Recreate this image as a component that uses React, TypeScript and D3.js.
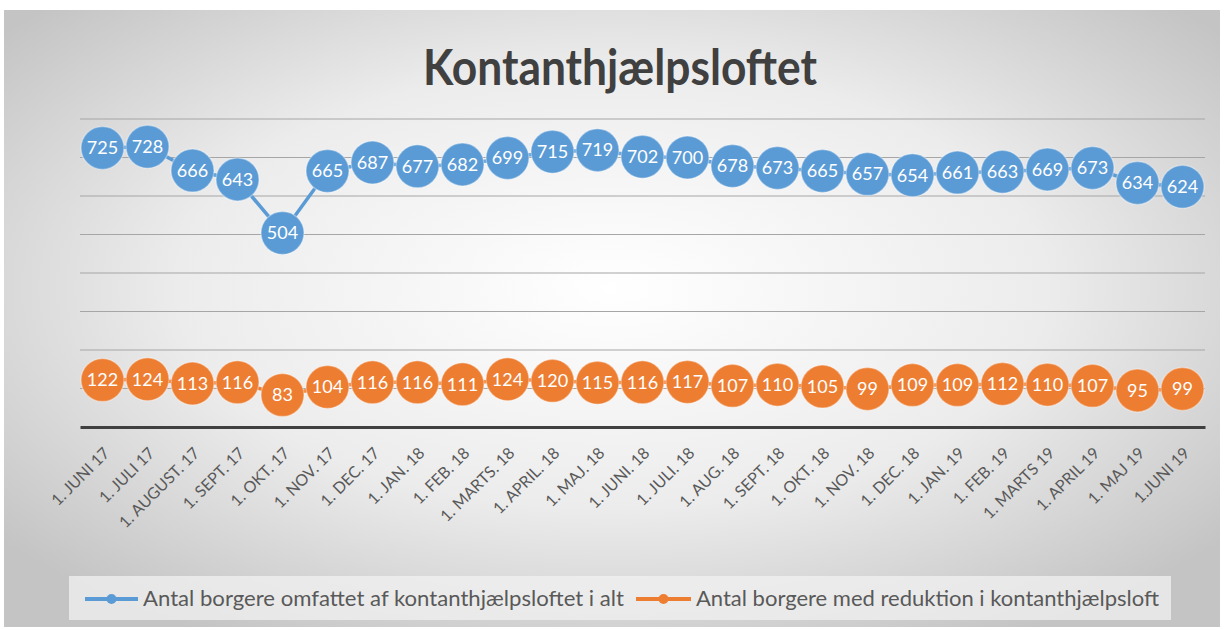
import React, { useEffect, useRef } from "react";
import * as d3 from "d3";

const months = [
  "1. JUNI 17", "1. JULI 17", "1. AUGUST. 17", "1. SEPT. 17", "1. OKT. 17",
  "1. NOV. 17", "1. DEC. 17", "1. JAN. 18", "1. FEB. 18", "1. MARTS. 18",
  "1. APRIL. 18", "1. MAJ. 18", "1. JUNI. 18", "1. JULI. 18", "1. AUG. 18",
  "1. SEPT. 18", "1. OKT. 18", "1. NOV. 18", "1. DEC. 18", "1. JAN. 19",
  "1. FEB. 19", "1. MARTS 19", "1. APRIL 19", "1. MAJ 19", "1.JUNI 19",
];

const totalCitizens = [
  725, 728, 666, 643, 504, 665, 687, 677, 682, 699, 715, 719, 702, 700, 678,
  673, 665, 657, 654, 661, 663, 669, 673, 634, 624,
];

const reducedCitizens = [
  122, 124, 113, 116, 83, 104, 116, 116, 111, 124, 120, 115, 116, 117, 107,
  110, 105, 99, 109, 109, 112, 110, 107, 95, 99,
];

const seriesNames = [
  "Antal borgere omfattet af kontanthjælpsloftet i alt",
  "Antal borgere med reduktion i kontanthjælpsloft",
];

const yTicks = [0, 100, 200, 300, 400, 500, 600, 700, 800];

const BLUE = "#5b9bd5";
const ORANGE = "#ed7d31";
const FONT = "Lato, 'Open Sans', sans-serif";

export default function App() {
  const ref = useRef<SVGSVGElement>(null);

  useEffect(() => {
    const width = 1224;
    const height = 630;
    const margin = { top: 119, right: 19, bottom: 203, left: 80 };
    const innerWidth = width - margin.left - margin.right;
    const innerHeight = height - margin.top - margin.bottom;

    const svg = d3.select(ref.current);
    svg.selectAll("*").remove();

    // background gradient
    const defs = svg.append("defs");
    const grad = defs.append("radialGradient")
      .attr("id", "bg")
      .attr("cx", "50%").attr("cy", "45%").attr("r", "65%");
    grad.append("stop").attr("offset", "0%").attr("stop-color", "#ffffff");
    grad.append("stop").attr("offset", "55%").attr("stop-color", "#ececec");
    grad.append("stop").attr("offset", "100%").attr("stop-color", "#c4c4c4");

    svg.append("rect").attr("width", width).attr("height", height).attr("fill", "#ffffff");
    svg.append("rect")
      .attr("x", 4).attr("y", 10)
      .attr("width", width - 8).attr("height", height - 13)
      .attr("fill", "url(#bg)");

    // title
    svg.append("text")
      .attr("x", 620)
      .attr("y", 85)
      .attr("text-anchor", "middle")
      .attr("font-family", FONT)
      .attr("font-size", "50px")
      .attr("font-weight", "bold")
      .attr("fill", "#404040")
      .attr("textLength", 394)
      .attr("lengthAdjust", "spacingAndGlyphs")
      .text("Kontanthjælpsloftet");

    const g = svg.append("g")
      .attr("transform", `translate(${margin.left}, ${margin.top})`);

    const xScale = d3.scaleBand()
      .domain(months)
      .range([0, innerWidth]);

    const yScale = d3.scaleLinear()
      .domain([0, 800])
      .range([innerHeight, 0]);

    const cx = (i: number) => (xScale(months[i]) ?? 0) + xScale.bandwidth() / 2;

    // gridlines
    g.selectAll(".grid")
      .data(yTicks.slice(1))
      .enter()
      .append("line")
      .attr("x1", 0)
      .attr("x2", innerWidth)
      .attr("y1", d => yScale(d))
      .attr("y2", d => yScale(d))
      .attr("stroke", "#a6a6a6")
      .attr("stroke-width", 1.2);

    // x axis
    const xAxis = d3.axisBottom(xScale).tickSize(0).tickSizeOuter(0);
    const ax = g.append("g")
      .attr("transform", `translate(0, ${innerHeight})`)
      .call(xAxis);
    ax.select(".domain").attr("stroke", "#404040").attr("stroke-width", 3);
    ax.selectAll("text")
      .attr("font-family", FONT)
      .attr("font-size", "16px")
      .attr("fill", "#595959")
      .attr("text-anchor", "end")
      .attr("dy", "0")
      .attr("transform", "translate(6, 25) rotate(-45)");

    const series = [
      { values: totalCitizens, color: BLUE },
      { values: reducedCitizens, color: ORANGE },
    ];

    series.forEach(s => {
      const line = d3.line<number>()
        .x((_, i) => cx(i))
        .y(d => yScale(d));

      g.append("path")
        .datum(s.values)
        .attr("d", line)
        .attr("fill", "none")
        .attr("stroke", s.color)
        .attr("stroke-width", 3.5);

      g.append("g")
        .selectAll("circle")
        .data(s.values)
        .enter()
        .append("circle")
        .attr("cx", (_, i) => cx(i))
        .attr("cy", d => yScale(d))
        .attr("r", 21.5)
        .attr("fill", s.color)
        .attr("stroke", "#ffffff")
        .attr("stroke-opacity", 0.35)
        .attr("stroke-width", 1.5);

      g.append("g")
        .selectAll("text")
        .data(s.values)
        .enter()
        .append("text")
        .attr("x", (_, i) => cx(i))
        .attr("y", d => yScale(d))
        .attr("dy", "0.35em")
        .attr("text-anchor", "middle")
        .attr("font-family", FONT)
        .attr("font-size", "18px")
        .attr("fill", "#ffffff")
        .text(d => d);
    });

    // legend
    const legend = svg.append("g");
    legend.append("rect")
      .attr("x", 69).attr("y", 576)
      .attr("width", 1102).attr("height", 44)
      .attr("fill", "#f2f2f2")
      .attr("fill-opacity", 0.75);

    const legendItems = [
      { name: seriesNames[0], color: BLUE, x: 85, tx: 143, tw: 481 },
      { name: seriesNames[1], color: ORANGE, x: 636, tx: 696, tw: 463 },
    ];
    legendItems.forEach(item => {
      legend.append("line")
        .attr("x1", item.x).attr("x2", item.tx - 5)
        .attr("y1", 599).attr("y2", 599)
        .attr("stroke", item.color)
        .attr("stroke-width", 4);
      legend.append("circle")
        .attr("cx", (item.x + item.tx - 5) / 2).attr("cy", 599)
        .attr("r", 5)
        .attr("fill", item.color);
      legend.append("text")
        .attr("x", item.tx)
        .attr("y", 606)
        .attr("font-family", FONT)
        .attr("font-size", "22px")
        .attr("fill", "#595959")
        .attr("textLength", item.tw)
        .attr("lengthAdjust", "spacingAndGlyphs")
        .text(item.name);
    });
  }, []);

  return (
    <div style={{ position: "absolute", left: 0, top: 0 }}>
      <svg ref={ref} width={1224} height={630} style={{ display: "block" }} />
    </div>
  );
}
